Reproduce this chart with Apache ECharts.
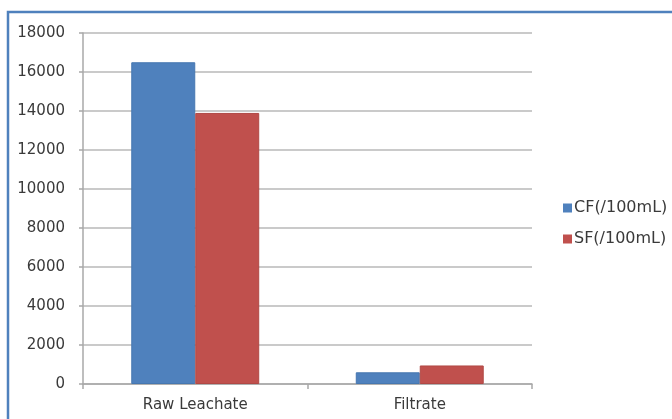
<!DOCTYPE html>
<html>
<head>
<meta charset="utf-8">
<style>
  html, body { margin: 0; padding: 0; background: #ffffff; }
  #chart { width: 672px; height: 419px; }
</style>
<script src="https://cdn.jsdelivr.net/npm/echarts@6/dist/echarts.min.js"></script>
</head>
<body>
<div id="chart"></div>
<script>
// Sample sites
const categories = ['Raw Leachate', 'Filtrate'];
// Coliform counts per 100 mL
const cfValues = [16500, 600];
const sfValues = [13900, 950];
const seriesNames = ['CF(/100mL)', 'SF(/100mL)'];
// Value axis ticks
const yTicks = [0, 2000, 4000, 6000, 8000, 10000, 12000, 14000, 16000, 18000];

const FONT = 'DejaVu Sans';
const TEXT = '#3a3a3a';

const chart = echarts.init(document.getElementById('chart'), null, { renderer: 'canvas' });

chart.setOption({
  animation: false,
  backgroundColor: '#ffffff',
  textStyle: { fontFamily: FONT },
  graphic: [{
    type: 'rect',
    shape: { x: 8, y: 12, width: 720, height: 480 },
    style: { fill: 'none', stroke: '#4f81bd', lineWidth: 2.5 },
    silent: true
  }],
  grid: { left: 83, right: 140, top: 33, bottom: 35, containLabel: false },
  legend: {
    orient: 'vertical',
    left: 558,
    top: 195,
    itemWidth: 9,
    itemHeight: 9,
    itemGap: 15,
    icon: 'rect',
    itemStyle: { borderWidth: 0 },
    textStyle: { fontFamily: FONT, fontSize: 16, color: TEXT, padding: [0, 0, 0, -3] },
    data: seriesNames
  },
  xAxis: {
    type: 'category',
    data: categories,
    axisLine: { lineStyle: { color: '#a8a8a8', width: 1.5 } },
    axisTick: { show: true, length: 5, lineStyle: { color: '#a8a8a8', width: 1.5 } },
    axisLabel: { fontFamily: FONT, fontSize: 15, color: TEXT, margin: 14 },
    splitLine: { show: false }
  },
  yAxis: {
    type: 'value',
    min: yTicks[0],
    max: yTicks[yTicks.length - 1],
    interval: yTicks[1] - yTicks[0],
    axisLine: { show: true, lineStyle: { color: '#a8a8a8', width: 1.5 } },
    axisTick: { show: true, length: 4, lineStyle: { color: '#a8a8a8', width: 1.5 } },
    axisLabel: {
      fontFamily: FONT, fontSize: 15, color: TEXT, margin: 18,
      formatter: function (v) { return String(v); }
    },
    splitLine: { show: true, lineStyle: { color: '#cacaca', width: 2 } }
  },
  series: [
    {
      name: seriesNames[0],
      type: 'bar',
      data: cfValues,
      barGap: '0%',
      barCategoryGap: '43%',
      itemStyle: { color: '#4f81bd', borderColor: '#4677b0', borderWidth: 1 }
    },
    {
      name: seriesNames[1],
      type: 'bar',
      data: sfValues,
      itemStyle: { color: '#c0504d', borderColor: '#b04845', borderWidth: 1 }
    }
  ]
});
</script>
</body>
</html>
